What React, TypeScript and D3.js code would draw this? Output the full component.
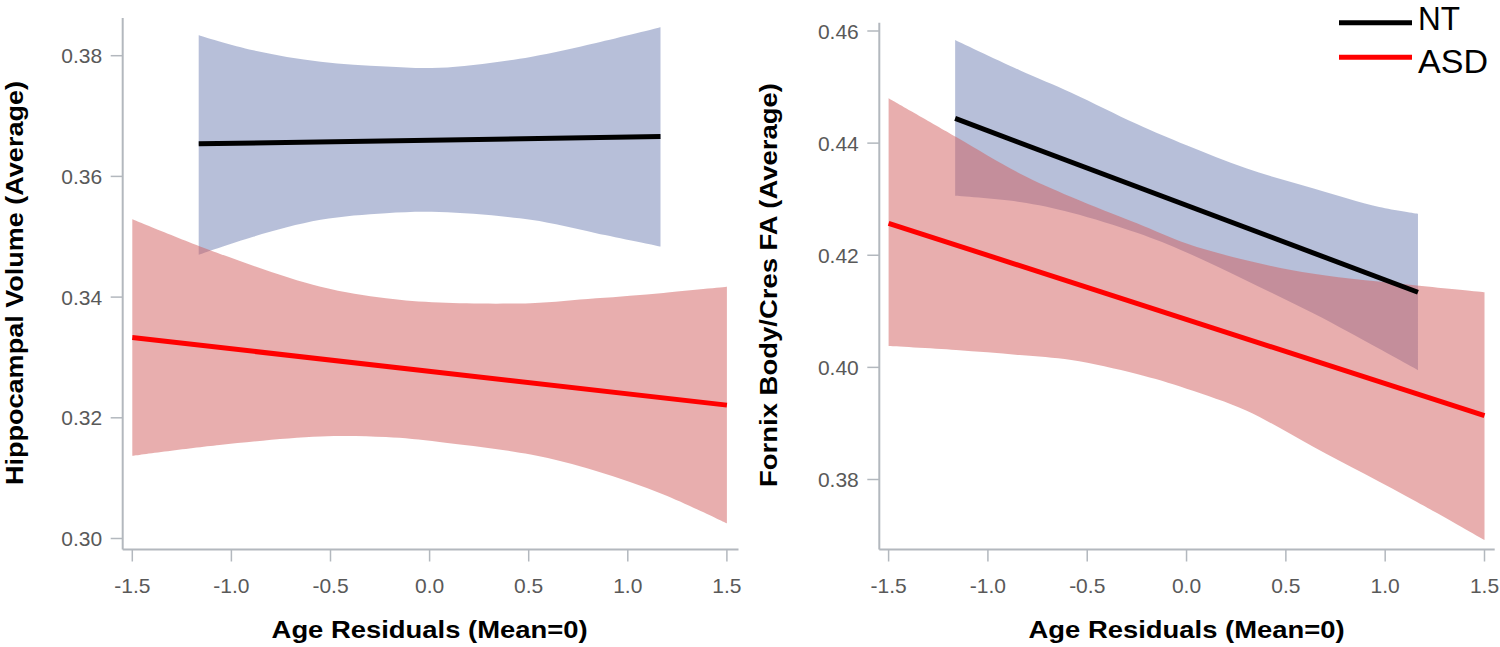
import React from "react";
import * as d3 from "d3";

// ---------- data ----------
const xTicks = [-1.5, -1.0, -0.5, 0.0, 0.5, 1.0, 1.5];
const leftYTicks = [0.3, 0.32, 0.34, 0.36, 0.38];
const rightYTicks = [0.38, 0.4, 0.42, 0.44, 0.46];

const xTitle = "Age Residuals (Mean=0)";
const leftYTitle = "Hippocampal Volume (Average)";
const rightYTitle = "Fornix Body/Cres FA (Average)";
const legendLabels = ["NT", "ASD"];

// Left panel – NT
const leftNtLineX = [-1.165, 1.165];
const leftNtLineY = [0.3654, 0.3666];
const leftNtBandX = [-1.165, -0.89, -0.55, -0.22, 0.05, 0.51, 0.84, 1.165];
const leftNtUpper = [0.3834, 0.3809, 0.379, 0.3782, 0.378, 0.3798, 0.3821, 0.3847];
const leftNtLower = [0.347, 0.35, 0.3528, 0.3539, 0.3541, 0.3528, 0.3506, 0.3484];

// Left panel – ASD
const leftAsdLineX = [-1.5, 1.5];
const leftAsdLineY = [0.3333, 0.3221];
const leftAsdBandX = [-1.5, -1.06, -0.55, -0.22, 0.05, 0.51, 0.84, 1.18, 1.5];
const leftAsdUpper = [0.3529, 0.3472, 0.3417, 0.3398, 0.3391, 0.339, 0.3398, 0.3407, 0.3417];
const leftAsdLower = [0.3137, 0.3155, 0.3169, 0.3168, 0.316, 0.3139, 0.3112, 0.3073, 0.3025];

// Right panel – NT
const rightNtLineX = [-1.165, 1.165];
const rightNtLineY = [0.4444, 0.4134];
const rightNtBandX = [-1.165, -0.84, -0.58, -0.25, 0.0, 0.3, 0.64, 0.97, 1.165];
const rightNtUpper = [0.4584, 0.453, 0.449, 0.4434, 0.4396, 0.4355, 0.4319, 0.4286, 0.4274];
const rightNtLower = [0.4306, 0.4295, 0.4276, 0.424, 0.4205, 0.4155, 0.4096, 0.4033, 0.3995];

// Right panel – ASD
const rightAsdLineX = [-1.5, 1.5];
const rightAsdLineY = [0.4257, 0.3914];
const rightAsdBandX = [-1.5, -1.16, -0.84, -0.58, -0.25, 0.0, 0.3, 0.64, 1.16, 1.5];
const rightAsdUpper = [0.448, 0.4411, 0.4346, 0.4304, 0.4257, 0.4221, 0.4191, 0.4167, 0.4146, 0.4134];
const rightAsdLower = [0.4038, 0.4031, 0.4022, 0.4013, 0.3988, 0.3962, 0.3923, 0.3858, 0.376, 0.3692];

// ---------- styles ----------
const FONT = "'Liberation Sans', Arial, Helvetica, sans-serif";
const AXIS_COLOR = "#b3b8be";
const TICK_TEXT = "#595959";
const BLUE_FILL = "rgb(112,128,180)";
const RED_FILL = "rgb(209,93,93)";

type BandData = { x: number[]; lo: number[]; hi: number[] };
type LineData = { x: number[]; y: number[] };

type PanelProps = {
  xRange: [number, number];
  yDomain: [number, number];
  yRange: [number, number];
  axisX: number;
  axisY: number;
  yTop: number;
  xRight: number;
  yTicks: number[];
  yTitle: string;
  yTitleX: number;
  yTitleCY: number;
  ntBand: BandData;
  asdBand: BandData;
  ntLine: LineData;
  asdLine: LineData;
};

function Panel(p: PanelProps) {
  const xs = d3.scaleLinear().domain([-1.5, 1.5]).range(p.xRange);
  const ys = d3.scaleLinear().domain(p.yDomain).range(p.yRange);

  type Pt = { x: number; lo: number; hi: number };
  const area = d3
    .area<Pt>()
    .x((d) => xs(d.x))
    .y0((d) => ys(d.lo))
    .y1((d) => ys(d.hi))
    .curve(d3.curveCatmullRom.alpha(0.5));
  const line = d3
    .line<[number, number]>()
    .x((d) => xs(d[0]))
    .y((d) => ys(d[1]));

  const toPts = (b: BandData): Pt[] => b.x.map((x, i) => ({ x, lo: b.lo[i], hi: b.hi[i] }));
  const toLine = (l: LineData): [number, number][] => l.x.map((x, i) => [x, l.y[i]]);

  const titleCX = xs(0);

  return (
    <g>
      {/* bands */}
      <path d={area(toPts(p.ntBand)) || ""} fill={BLUE_FILL} fillOpacity={0.5} />
      <path d={area(toPts(p.asdBand)) || ""} fill={RED_FILL} fillOpacity={0.5} />
      {/* lines */}
      <path d={line(toLine(p.ntLine)) || ""} stroke="#000" strokeWidth={5} fill="none" />
      <path d={line(toLine(p.asdLine)) || ""} stroke="#ff0000" strokeWidth={5} fill="none" />

      {/* axes */}
      <line x1={p.axisX} x2={p.axisX} y1={p.yTop} y2={p.axisY} stroke={AXIS_COLOR} strokeWidth={2} />
      <line x1={p.axisX} x2={p.xRight} y1={p.axisY} y2={p.axisY} stroke={AXIS_COLOR} strokeWidth={2} />

      {p.yTicks.map((t) => (
        <g key={"y" + t}>
          <line x1={p.axisX - 12} x2={p.axisX} y1={ys(t)} y2={ys(t)} stroke={AXIS_COLOR} strokeWidth={1.5} />
          <text
            x={p.axisX - 20.5}
            y={ys(t) + 7.6}
            textAnchor="end"
            fontFamily={FONT}
            fontSize={21}
            fill={TICK_TEXT}
          >
            {t.toFixed(2)}
          </text>
        </g>
      ))}
      {xTicks.map((t) => (
        <g key={"x" + t}>
          <line x1={xs(t)} x2={xs(t)} y1={p.axisY} y2={p.axisY + 12} stroke={AXIS_COLOR} strokeWidth={1.5} />
          <text x={xs(t)} y={593} textAnchor="middle" fontFamily={FONT} fontSize={21} fill={TICK_TEXT}>
            {t.toFixed(1)}
          </text>
        </g>
      ))}

      <text
        x={titleCX}
        y={638.3}
        textAnchor="middle"
        fontFamily={FONT}
        fontWeight="bold"
        fontSize={24}
        fill="#000"
        textLength={316}
        lengthAdjust="spacingAndGlyphs"
      >
        {xTitle}
      </text>
      <text
        transform={`translate(${p.yTitleX},${p.yTitleCY}) rotate(-90)`}
        textAnchor="middle"
        fontFamily={FONT}
        fontWeight="bold"
        fontSize={24}
        fill="#000"
        textLength={404}
        lengthAdjust="spacingAndGlyphs"
      >
        {p.yTitle}
      </text>
    </g>
  );
}

export default function App() {
  const legendColors = ["#000000", "#ff0000"];
  const legendY = [22.7, 57.3];
  const legendTextY = [30, 72.7];
  const legendTextLen = [42, 70];
  return (
    <svg
      width={1500}
      height={647}
      viewBox="0 0 1500 647"
      style={{ position: "absolute", left: 0, top: 0, display: "block", background: "#fff" }}
    >
      <rect x={0} y={0} width={1500} height={647} fill="#fff" />
      <Panel
        xRange={[132.3, 726.9]}
        yDomain={[0.3, 0.38]}
        yRange={[538.5, 55.7]}
        axisX={122.7}
        axisY={549.5}
        yTop={18}
        xRight={738.5}
        yTicks={leftYTicks}
        yTitle={leftYTitle}
        yTitleX={23}
        yTitleCY={283}
        ntBand={{ x: leftNtBandX, lo: leftNtLower, hi: leftNtUpper }}
        asdBand={{ x: leftAsdBandX, lo: leftAsdLower, hi: leftAsdUpper }}
        ntLine={{ x: leftNtLineX, y: leftNtLineY }}
        asdLine={{ x: leftAsdLineX, y: leftAsdLineY }}
      />
      <Panel
        xRange={[888.6, 1484.5]}
        yDomain={[0.38, 0.46]}
        yRange={[479.5, 31]}
        axisX={879.3}
        axisY={549.5}
        yTop={22.7}
        xRight={1494.7}
        yTicks={rightYTicks}
        yTitle={rightYTitle}
        yTitleX={776.5}
        yTitleCY={285}
        ntBand={{ x: rightNtBandX, lo: rightNtLower, hi: rightNtUpper }}
        asdBand={{ x: rightAsdBandX, lo: rightAsdLower, hi: rightAsdUpper }}
        ntLine={{ x: rightNtLineX, y: rightNtLineY }}
        asdLine={{ x: rightAsdLineX, y: rightAsdLineY }}
      />
      {legendLabels.map((lab, i) => (
        <g key={lab}>
          <line x1={1339} x2={1412} y1={legendY[i]} y2={legendY[i]} stroke={legendColors[i]} strokeWidth={5} />
          <text
            x={1418}
            y={legendTextY[i]}
            fontFamily={FONT}
            fontSize={33}
            fill="#000"
            textLength={legendTextLen[i]}
            lengthAdjust="spacingAndGlyphs"
          >
            {lab}
          </text>
        </g>
      ))}
    </svg>
  );
}
